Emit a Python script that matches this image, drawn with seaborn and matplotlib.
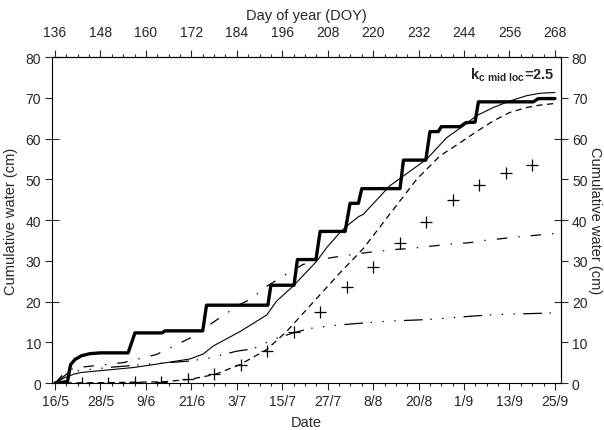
import numpy as np
import pandas as pd
import seaborn as sns
import matplotlib.pyplot as plt
import matplotlib.ticker as mticker

sns.set_style('ticks')
plt.rcParams['font.family'] = ['Liberation Sans', 'DejaVu Sans']
plt.rcParams['mathtext.fontset'] = 'custom'
plt.rcParams['mathtext.bf'] = 'Liberation Sans:bold'
plt.rcParams['mathtext.rm'] = 'Liberation Sans'
plt.rcParams['lines.scale_dashes'] = False

# cumulative rain + irrigation (thick step line)
step_doy = [136, 137.5, 139.3, 140.1, 141.3, 143, 145.2, 148, 155.3, 157.1, 164.3, 165,
            175, 176, 192.2, 193, 199.1, 200, 204.9, 206, 212.6, 213.9, 216.1, 217,
            227.1, 228, 233.9, 235, 237.2, 238, 243, 244.5, 246.9, 247.8, 262.3, 263.6, 268]
step_cm = [0, 0.1, 0.4, 4.5, 5.8, 6.7, 7.2, 7.4, 7.4, 12.3, 12.3, 12.8,
           12.8, 19.1, 19.1, 24.0, 24.0, 30.3, 30.3, 37.2, 37.2, 44.1, 44.1, 47.7,
           47.7, 54.7, 54.7, 61.7, 61.7, 62.9, 62.9, 63.9, 64.0, 69.0, 69.0, 69.8, 69.8]

# thin solid line
thin_doy = [136, 138.5, 141, 143, 156.7, 164, 171.6, 175.1, 177.8, 184.8, 191.9, 194.5,
            198.9, 205.1, 207.7, 211.2, 213, 216.1, 217.4, 224.4, 234.1, 239.4, 243.8,
            247.3, 251.7, 256.1, 260.5, 264, 268]
thin_cm = [0, 1.3, 2.2, 2.6, 3.8, 4.8, 5.9, 7.1, 9.1, 12.6, 16.7, 20.1,
           23.8, 29.9, 33.2, 36.9, 38.5, 40.8, 41.4, 48.4, 54.9, 60.2, 63.1,
           65.6, 67.6, 69.2, 70.5, 71.1, 71.3]

# short dashed line
dash_doy = [136, 150, 164.6, 171.6, 178.2, 184.8, 191.9, 197.2, 201.6, 206, 211.2, 217.4,
            223.6, 231.5, 237.6, 243, 247.3, 251.7, 256.1, 260.5, 264, 268]
dash_cm = [0, 0.1, 0.3, 0.9, 2.1, 4.5, 8.2, 12.7, 17.2, 21.7, 27.0, 33.0,
           40.5, 50.0, 55.7, 59.0, 61.7, 64.3, 66.4, 67.6, 68.2, 68.6]

# measured points (+)
obs_doy = [143, 150, 157, 164, 171, 178, 185, 192, 199, 206, 213, 220, 227, 234, 241, 248, 255, 262]
obs_cm = [0.1, 0.1, 0.2, 0.3, 0.9, 2.3, 4.5, 7.8, 12.4, 17.5, 23.6, 28.5, 34.4, 39.4, 44.9, 48.5, 51.6, 53.4]

# dash-dot line
dd_doy = [136, 138, 141, 154, 162.8, 171.6, 179.5, 184.8, 187.5, 192, 196.7, 201.5, 207.2,
          212, 218.2, 226.1, 229.7, 239.4, 245.1, 249.5, 258.8, 268]
dd_cm = [0, 2.0, 3.7, 5.0, 7.0, 11.0, 16.0, 19.3, 20.5, 23.8, 26.5, 29.1, 30.5,
         31.2, 32.0, 32.8, 33.0, 34.0, 34.4, 35.0, 35.9, 36.7]

# dash-dot-dot line
ddd_doy = [136, 139.5, 142, 150, 160, 171.6, 177, 183.9, 188.3, 193.6, 198.9, 203.3,
           209.4, 215.6, 224.4, 235, 244.5, 252, 268]
ddd_cm = [0, 2.5, 3.0, 3.8, 4.6, 5.4, 6.2, 7.8, 8.4, 10.7, 12.3, 13.4,
          14.1, 14.6, 15.2, 15.6, 16.3, 16.8, 17.2]

doy_ticks = list(range(136, 269, 12))
date_labels = ['16/5', '28/5', '9/6', '21/6', '3/7', '15/7', '27/7', '8/8', '20/8', '1/9', '13/9', '25/9']
y_major = [0, 20, 40, 60, 80]
y_minor = [10, 30, 50, 70]

fig = plt.figure(figsize=(6.04, 4.31), dpi=100)
ax = fig.add_axes([0.0861, 0.109, 0.8427, 0.7564])

kw = dict(ax=ax, color='black', estimator=None, sort=False, legend=False)
sns.lineplot(x=ddd_doy, y=ddd_cm, linewidth=0.9, linestyle=(0, (13.5, 5.5, 1, 7.5, 1, 7.5, 1, 6)), **kw)
sns.lineplot(x=dd_doy, y=dd_cm, linewidth=0.9, linestyle=(0, (7.5, 8, 1, 8)), **kw)
sns.lineplot(x=dash_doy, y=dash_cm, linewidth=0.9, linestyle=(0, (4.5, 3.2)), **kw)
sns.lineplot(x=thin_doy, y=thin_cm, linewidth=0.8, **kw)
sns.lineplot(x=step_doy, y=step_cm, linewidth=2.4, **kw)
sns.scatterplot(x=obs_doy, y=obs_cm, ax=ax, marker='+', s=75, color='black', linewidth=0.9, legend=False)

ax.set_xlim(135.2, 269.6)
ax.set_ylim(0, 80)

ax.set_xticks(doy_ticks)
ax.set_xticklabels(date_labels)
ax.xaxis.set_minor_locator(mticker.FixedLocator(np.arange(136, 269, 3)))
ax.yaxis.set_major_locator(mticker.FixedLocator(y_major))
ax.yaxis.set_minor_locator(mticker.FixedLocator(y_minor))
ax.yaxis.set_minor_formatter(mticker.FormatStrFormatter('%d'))

ax.tick_params(axis='x', which='major', direction='out', length=5, width=0.8, labelsize=10, pad=3)
ax.tick_params(axis='x', which='minor', direction='out', length=2.5, width=0.8)
ax.tick_params(axis='y', which='major', direction='inout', length=9.5, width=0.8, labelsize=10, pad=3)
ax.tick_params(axis='y', which='minor', direction='out', length=5, width=0.8, labelsize=10, pad=3)

top = ax.secondary_xaxis('top')
top.xaxis.set_major_locator(mticker.FixedLocator(doy_ticks))
top.xaxis.set_minor_locator(mticker.FixedLocator(np.arange(136, 269, 3)))
top.tick_params(which='major', direction='out', length=5, width=0.8, labelsize=10, pad=8)
top.tick_params(which='minor', direction='out', length=2.5, width=0.8)
top.set_xlabel('Day of year (DOY)', fontsize=10.5, labelpad=4)

right = ax.secondary_yaxis('right')
right.yaxis.set_major_locator(mticker.FixedLocator(y_major))
right.yaxis.set_minor_locator(mticker.FixedLocator(y_minor))
right.yaxis.set_minor_formatter(mticker.FormatStrFormatter('%d'))
right.tick_params(which='major', direction='inout', length=9.5, width=0.8, labelsize=10, pad=3)
right.tick_params(which='minor', direction='out', length=5, width=0.8, labelsize=10, pad=3)

for a in (ax, top, right):
    for sp in a.spines.values():
        sp.set_linewidth(0.8)
        sp.set_color('black')

ax.set_xlabel('Date', fontsize=10.5, labelpad=5)
ax.set_ylabel('Cumulative water (cm)', fontsize=10.5, labelpad=5)
fig.text(0.985, 0.487, 'Cumulative water (cm)', rotation=270, ha='center', va='center', fontsize=10.5)

ax.text(0.988, 0.948, r'$\mathbf{k}_{\mathbf{c\ mid\ loc}}$=2.5', transform=ax.transAxes,
        ha='right', va='center', fontsize=10.5, fontweight='bold')

fig.savefig('out.png', dpi=100)
